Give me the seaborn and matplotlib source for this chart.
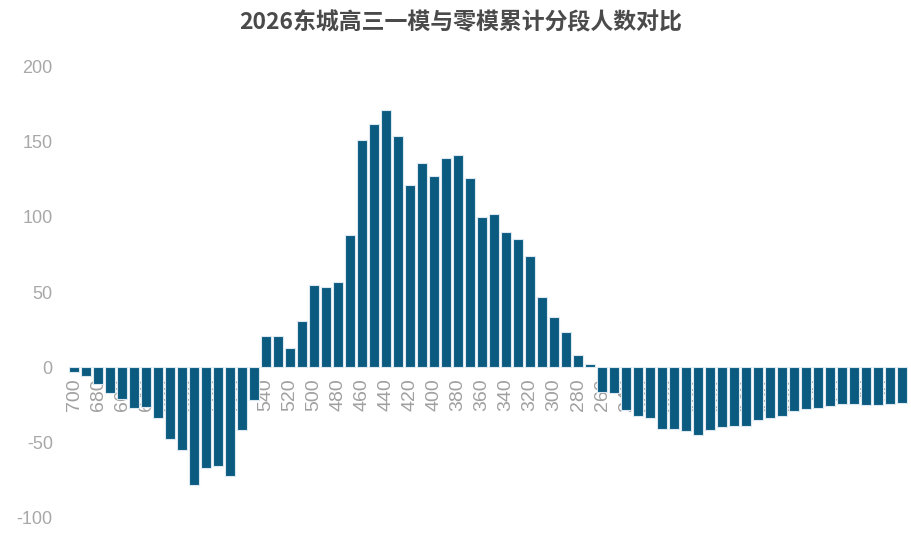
import matplotlib
matplotlib.use("Agg")
import matplotlib.pyplot as plt
import seaborn as sns
import pandas as pd

scores = list(range(700, 0, -10))
diff = [-3.5, -6, -11, -17.5, -21.5, -27.5, -26.5, -34, -48, -55,
        -78.5, -67.5, -66, -72.5, -42, -22, 20.5, 20.5, 13, 31,
        55, 53.5, 57, 88, 151, 162, 171, 154, 121, 136,
        127.5, 139, 141, 126, 100, 102, 90, 85, 74, 47,
        33.5, 23.5, 8, 2, -16.5, -17.5, -28.5, -32.5, -34, -41,
        -41, -42.5, -45.5, -42, -40, -39.5, -39.5, -35.5, -34, -32.5,
        -29, -28, -27.5, -26, -24.5, -24.5, -25, -25, -24.5, -24]
yticks = [-100, -50, 0, 50, 100, 150, 200]
title = "2026东城高三一模与零模累计分段人数对比"

sns.set_theme(style="white")
plt.rcParams['font.family'] = ['Liberation Sans', 'DejaVu Sans']

labels = [str(s) for s in scores]
df = pd.DataFrame({"score": labels, "diff": diff})

fig = plt.figure(figsize=(9.12, 5.35), dpi=100)
ax = fig.add_axes([0.0746, 0.0336, 0.921, 0.8412])
ax.set_axisbelow(True)
sns.barplot(data=df, x="score", y="diff", order=labels, color="#0b5a80",
            saturation=1, width=0.76, edgecolor="#dbe8ef", linewidth=0.8, ax=ax)

ax.spines['bottom'].set_position(('data', 0))
for s in ax.spines.values():
    s.set_visible(False)
ax.set_xlim(-0.5, len(labels) - 0.5)
ax.set_ylim(-100, 200)
ax.set_yticks(yticks)
ax.set_yticklabels([str(v) for v in yticks])
ax.set_xticks(range(0, len(labels), 2))
ax.set_xticklabels(labels[::2])
ax.tick_params(axis='x', length=0, pad=8, labelsize=14, colors="#a0a0a0",
               labelrotation=90)
ax.tick_params(axis='y', length=0, pad=11, labelsize=13, colors="#a8a8a8")
ax.set_xlabel("")
ax.set_ylabel("")
ax.grid(False)

fig.suptitle(title, x=0.505, y=0.958, va='center', fontsize=16.5,
             color="#4a4a4a", fontweight='bold',
             family=['Noto Sans CJK SC', 'DejaVu Sans'])

fig.savefig("out.png", dpi=100)
